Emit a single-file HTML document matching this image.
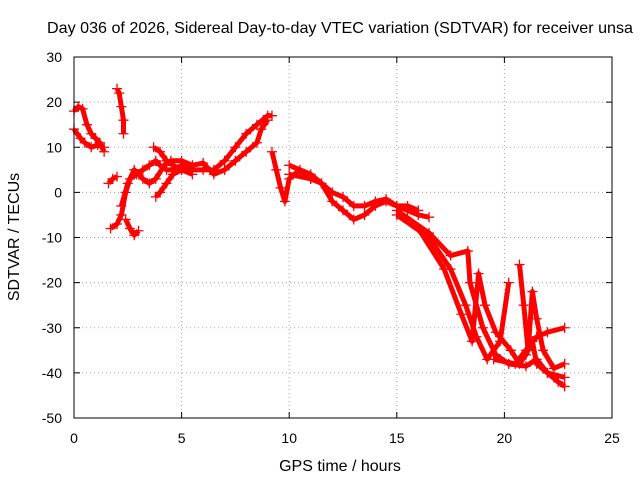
<!DOCTYPE html>
<html><head><meta charset="utf-8"><style>
body{margin:0;background:#fff;}
svg text{font-family:"Liberation Sans",sans-serif;font-size:14px;fill:#000;}
svg text.big{font-size:16px;}
</style></head><body>
<svg id="chart" width="640" height="480" xmlns="http://www.w3.org/2000/svg">
<rect x="0" y="0" width="640" height="480" fill="#fff"/>
<text class="big" x="340" y="33" text-anchor="middle" textLength="586" lengthAdjust="spacingAndGlyphs">Day 036 of 2026, Sidereal Day-to-day VTEC variation (SDTVAR) for receiver unsa</text>
<g id="grid"></g><g id="ticks"></g><g id="series"></g>
<rect x="74" y="57" width="538" height="361" fill="none" stroke="#000"/>
<text class="big" x="340" y="471" text-anchor="middle">GPS time / hours</text>
<text class="big" transform="translate(19,237) rotate(-90)" text-anchor="middle">SDTVAR / TECUs</text>
</svg>
<script>
const xTicks=[0,5,10,15,20,25];
const yTicks=[30,20,10,0,-10,-20,-30,-40,-50];
const trackA=[[0,18],[0.2,19],[0.4,18.5],[0.6,15],[0.8,13],[1,12],[1.2,11],[1.4,9]];
const trackB=[[0,14],[0.3,12],[0.5,11],[0.8,10],[1.1,10.5],[1.4,10]];
const trackC=[[2,23],[2.1,22],[2.2,19],[2.3,16],[2.3,13]];
const trackD=[[1.6,2],[1.8,3],[2,3.5]];
const trackE=[[1.7,-8],[2,-7],[2.2,-5],[2.4,0],[2.6,3],[2.9,4],[3.2,5],[3.5,6],[3.8,7],[4,6],[4.3,5],[4.6,5],[5,6],[5.5,5],[6,5],[6.5,5],[7,7],[7.5,10],[8,13],[8.5,15],[9,17],[9.2,17]];
const trackF=[[2.4,-6],[2.6,-8],[2.8,-9.5],[3,-8.5]];
const trackG=[[2.2,-3],[2.5,2],[2.8,5],[3.2,3],[3.5,2],[3.8,3],[4.2,6],[4.5,7],[5,7],[5.5,6],[6,6.5],[6.5,4],[7,5],[7.5,7],[8,9],[8.5,11],[8.7,14],[9,16]];
const trackH=[[3.7,10],[4,9],[4.3,7],[4.6,6],[5,5],[5.5,4]];
const trackI=[[3.8,-1],[4,0],[4.3,2],[4.6,4],[5,5]];
const trackJ=[[9.2,9],[9.4,5],[9.6,1],[9.8,-2],[10,3],[10.5,5],[11,3]];
const trackK=[[10,4],[11,3],[11.5,2],[12,-2],[12.5,-4],[13,-6],[13.5,-5],[14,-3],[14.5,-2],[15,-3],[15.5,-4],[16,-5],[16.5,-5.5]];
const trackL=[[10,6],[11,4],[11.5,2],[12,0],[12.5,-1],[13,-3],[13.5,-3],[14,-2],[14.5,-1.5],[15,-3],[15.5,-3],[16,-4]];
const trackM=[[15,-4],[16.5,-9],[17.5,-14],[18.3,-13],[18.4,-20],[19,-30],[19.6,-36],[20.2,-38],[21,-38.5],[21.5,-37],[22,-40],[22.5,-42],[22.8,-43]];
const trackN=[[15,-5],[16.5,-10],[17.5,-17],[18.2,-25],[18.7,-32],[19.2,-37],[19.8,-33],[20.2,-20]];
const trackO=[[16,-8],[17.2,-17],[18,-27],[18.5,-33],[18.8,-18],[19.1,-25],[19.6,-31],[20.3,-35],[20.7,-38],[21,-36],[21.3,-33],[21.5,-38],[22,-40],[22.8,-41]];
const trackP=[[20.7,-16],[20.9,-25],[21.1,-35],[21.3,-22],[21.5,-28],[21.8,-35],[22.3,-39],[22.8,-38]];
const trackQ=[[19.5,-37],[20.5,-38],[21,-35],[21.5,-32],[22,-31],[22.8,-30]];
const tracks=[trackA,trackB,trackC,trackD,trackE,trackF,trackG,trackH,trackI,trackJ,trackK,trackL,trackM,trackN,trackO,trackP,trackQ];

const NS="http://www.w3.org/2000/svg";
const X0=74,X1=612,Y0=418,Y1=57;
const xs=v=>X0+(v-0)/(25-0)*(X1-X0);
const ys=v=>Y0-(v+50)/(80)*(Y0-Y1);
function mk(tag,attrs,parent){const e=document.createElementNS(NS,tag);for(const k in attrs)e.setAttribute(k,attrs[k]);parent.appendChild(e);return e;}
const grid=document.getElementById('grid'),ticks=document.getElementById('ticks'),ser=document.getElementById('series');
xTicks.forEach(t=>{const x=xs(t);
 if(t>0&&t<25){const g=mk('line',{x1:x,x2:x,y1:Y0,y2:Y1,stroke:'#a0a0a0','stroke-dasharray':'1,3'},grid);
 
 }
 mk('line',{x1:x,x2:x,y1:Y0,y2:Y0-6,stroke:'#000'},ticks);
 mk('line',{x1:x,x2:x,y1:Y1,y2:Y1+6,stroke:'#000'},ticks);
 const tx=mk('text',{x:x,y:443,'text-anchor':'middle'},ticks);tx.textContent=t;
 
 
});
yTicks.forEach(t=>{const y=ys(t);
 if(t<30&&t>-50){const g=mk('line',{x1:X0,x2:X1,y1:y,y2:y,stroke:'#a0a0a0','stroke-dasharray':'1,3'},grid);
 
 }
 mk('line',{x1:X0,x2:X0+6,y1:y,y2:y,stroke:'#000'},ticks);
 mk('line',{x1:X1,x2:X1-6,y1:y,y2:y,stroke:'#000'},ticks);
 const tx=mk('text',{x:62,y:y+5,'text-anchor':'end'},ticks);tx.textContent=t;
 
 
});
tracks.forEach((tr,i)=>{
 const pl=mk('polyline',{points:tr.map(p=>xs(p[0])+','+ys(p[1])).join(' '),fill:'none',stroke:'#f00','stroke-width':5,'stroke-linejoin':'round'},ser);
 
 
 tr.forEach(p=>{const x=xs(p[0]),y=ys(p[1]);
  const m=mk('path',{d:`M${x-5},${y}H${x+5}M${x},${y-5}V${y+5}`,stroke:'#f00','stroke-width':1.3},ser);
  
  
 });
});
</script>
</body></html>
